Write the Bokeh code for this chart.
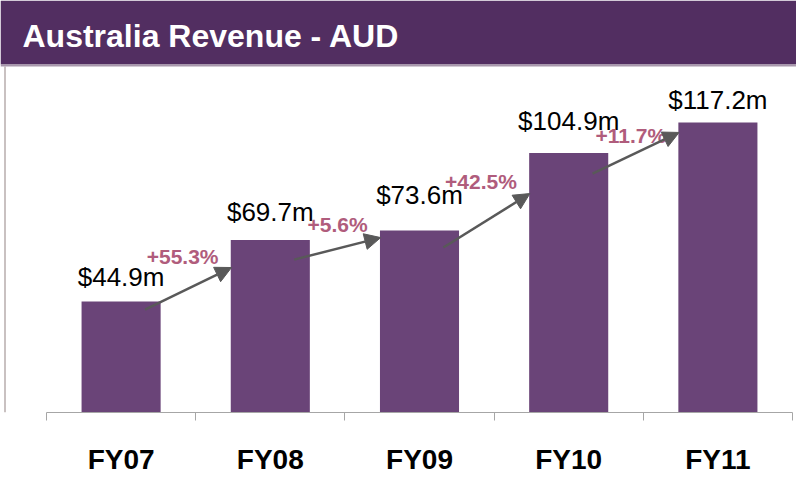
from bokeh.plotting import figure
from bokeh.models import (Range1d, LinearAxis, FixedTicker, BoxAnnotation, Label,
                          Arrow, NormalHead, ColumnDataSource)
from bokeh.embed import file_html
from bokeh.resources import INLINE
from bokeh.core.properties import value

# ---- data ----
categories = ["FY07", "FY08", "FY09", "FY10", "FY11"]
revenue = [44.9, 69.7, 73.6, 104.9, 117.2]          # AUD millions
value_labels = ["$44.9m", "$69.7m", "$73.6m", "$104.9m", "$117.2m"]
value_label_level = [52.1, 78.4, 84.9, 114.8, 123.3]  # baseline level of each value label
growth_labels = ["+55.3%", "+5.6%", "+42.5%", "+11.7%"]
growth_label_level = [60.2, 73.2, 90.5, 109.1]        # baseline level of each growth label
arrow_start_level = [41.6, 61.8, 66.7, 96.6]          # y level where each growth arrow starts
arrow_end_level = [58.6, 70.7, 88.5, 113.2]           # y level of each arrow tip
title_text = "Australia Revenue - AUD"

# ---- layout constants (pixels) ----
W, H = 796, 477
AXIS_LEFT_PX = 46      # canvas x of the first category boundary
CAT_PX = 149.2         # pixel width of one category
BASE_PX = 412          # canvas y of the value axis zero line
UNIT_PX = 2.474        # pixels per million
HEADER_PX = 64
SEP_PX = 2
TEXT_SHIFT = -7        # baseline correction for rendered text

x_start = -AXIS_LEFT_PX / CAT_PX
x_end = (W - AXIS_LEFT_PX) / CAT_PX
y_end = BASE_PX / UNIT_PX


def xd(px):
    return x_start + px / CAT_PX


def yd(py):
    return (BASE_PX - py) / UNIT_PX


FONT = "Liberation Sans"
BAR_COLOR = "#6A4478"
HEADER_COLOR = "#522E61"
GROWTH_COLOR = "#B05C7C"
ARROW_COLOR = "#595959"
AXIS_COLOR = "#A6A6A6"

centers = [i + 0.5 for i in range(len(categories))]

p = figure(width=W, height=H, x_range=Range1d(x_start, x_end), y_range=Range1d(0, y_end),
           output_backend="svg", toolbar_location=None,
           x_axis_type=None, y_axis_type=None,
           min_border_left=0, min_border_right=0, min_border_top=0,
           min_border_bottom=H - BASE_PX)
p.outline_line_color = None
p.background_fill_color = "white"
p.border_fill_color = "white"

# panel left border
p.segment(x0=[xd(4.5)], y0=[0], x1=[xd(4.5)], y1=[yd(HEADER_PX + SEP_PX)],
          line_color="#C9C1C1", line_width=2)

src = ColumnDataSource(dict(x=centers, top=revenue, label=value_labels,
                            ly=value_label_level, cat=categories))

p.vbar(x="x", top="top", bottom=0, width=0.53, source=src,
       fill_color=BAR_COLOR, line_color=None)

p.text(x="x", y="ly", text="label", source=src, text_align="center",
       text_baseline="alphabetic", y_offset=TEXT_SHIFT,
       text_font=value(FONT), text_font_size="26px", text_color="black")

tip_x = [centers[i + 1] - 0.26 for i in range(len(growth_labels))]
start_x = [centers[i] + 0.16 for i in range(len(growth_labels))]
gsrc = ColumnDataSource(dict(x=tip_x, y=growth_label_level, label=growth_labels))
p.text(x="x", y="y", text="label", source=gsrc, text_align="right",
       text_baseline="alphabetic", x_offset=-13, y_offset=TEXT_SHIFT,
       text_font=value(FONT), text_font_size="21px", text_font_style="bold",
       text_color=GROWTH_COLOR)

for i in range(len(growth_labels)):
    p.add_layout(Arrow(x_start=start_x[i], y_start=arrow_start_level[i],
                       x_end=tip_x[i], y_end=arrow_end_level[i],
                       line_color=ARROW_COLOR, line_width=2.5,
                       end=NormalHead(size=16, fill_color=ARROW_COLOR,
                                      line_color=ARROW_COLOR)))

ax = LinearAxis(ticker=FixedTicker(ticks=centers, minor_ticks=list(range(len(categories) + 1))),
                major_label_overrides={c: cat for c, cat in zip(centers, categories)},
                bounds=(0, len(categories)))
ax.axis_line_color = AXIS_COLOR
ax.axis_line_width = 1
ax.major_tick_line_color = None
ax.major_tick_in = 0
ax.major_tick_out = 0
ax.minor_tick_line_color = AXIS_COLOR
ax.minor_tick_in = 0
ax.minor_tick_out = 8
ax.major_label_standoff = 23
ax.major_label_text_font = FONT
ax.major_label_text_font_size = "28px"
ax.major_label_text_font_style = "bold"
ax.major_label_text_color = "black"
p.add_layout(ax, "below")

# header band
p.add_layout(BoxAnnotation(bottom=yd(HEADER_PX), fill_color=HEADER_COLOR, fill_alpha=1,
                           line_color=None))
p.add_layout(BoxAnnotation(bottom=yd(HEADER_PX + SEP_PX), top=yd(HEADER_PX),
                           fill_color="#A797AB", fill_alpha=1, line_color=None))
p.add_layout(Label(x=xd(22), y=yd(42 + TEXT_SHIFT), text=title_text, text_color="white",
                   text_font=FONT, text_font_size="32px", text_font_style="bold",
                   text_baseline="alphabetic", text_align="left"))

open("out.html", "w").write(file_html(p, INLINE))
